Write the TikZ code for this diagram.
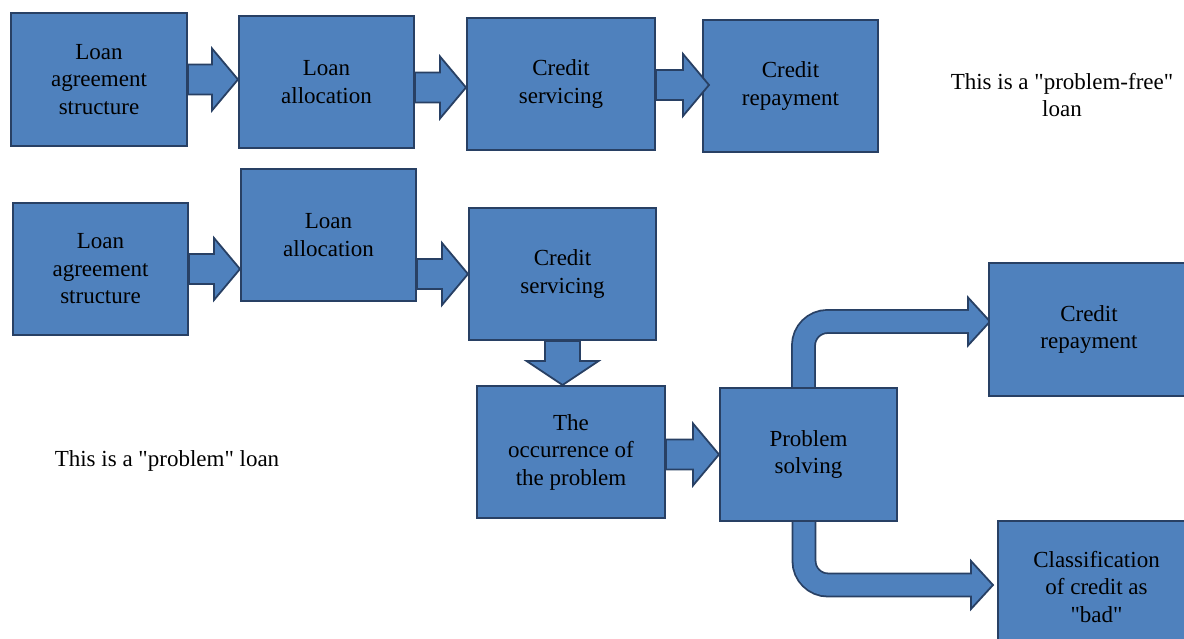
\documentclass[tikz,border=0pt]{standalone}
\usepackage{fontspec}
\setmainfont{Liberation Serif}
\usetikzlibrary{calc}
\definecolor{boxfill}{RGB}{79,129,189}
\definecolor{boxline}{RGB}{40,64,100}

% straight block arrow, left to right: start, tip
\newcommand{\rightblock}[2]{%
\draw[blockarrow] let \p1=(#1), \p2=(#2) in
 (\x1,\y2+15pt) -- (\x2-26pt,\y2+15pt) -- (\x2-26pt,\y2+31pt) -- (\x2,\y2)
 -- (\x2-26pt,\y2-31pt) -- (\x2-26pt,\y2-15pt) -- (\x1,\y2-15pt) -- cycle;}
% straight block arrow, downwards: start, tip
\newcommand{\downblock}[2]{%
\draw[blockarrow] let \p1=(#1), \p2=(#2) in
 (\x2-17.5pt,\y1) -- (\x2-17.5pt,\y2+24pt) -- (\x2-36pt,\y2+24pt) -- (\x2,\y2)
 -- (\x2+36pt,\y2+24pt) -- (\x2+17.5pt,\y2+24pt) -- (\x2+17.5pt,\y1) -- cycle;}
% bent block arrow: start, tip
\newcommand{\bentblock}[2]{%
\draw[line width=24.8pt, boxline, rounded corners=24pt] (#1) |- ($(#2)+(-22,0)$);
\draw[blockarrow] ($(#2)+(-22,-24)$) -- (#2) -- ($(#2)+(-22,24)$) -- cycle;
\draw[line width=21.2pt, boxfill, rounded corners=24pt] (#1) |- ($(#2)+(-19,0)$);}

\begin{document}
\begin{tikzpicture}[x=1pt,y=-1pt]
\tikzset{font={\fontsize{23}{27.5}\selectfont}}
\tikzset{box/.style={draw=boxline, fill=boxfill, line width=2pt, minimum width=175pt, minimum height=132pt, inner sep=0pt, align=center},
 blockarrow/.style={draw=boxline, fill=boxfill, line width=1.8pt, line join=miter},
 note/.style={align=center, inner sep=0pt}}
\useasboundingbox (0,0) rectangle (1184,639);

%Row 2 coordinates for the bent arrows
\coordinate (b5c) at (808.5,454.5);

%Problem-free loan
\node[box, minimum width=176pt, minimum height=133pt] (a1) at (99,79.5) {Loan\\agreement\\structure};
\node[box] (a2) at (326.5,82) {Loan\\allocation};
\node[box, minimum width=188pt] (a3) at (561,84) {Credit\\servicing};
\node[box] (a4) at (790.5,86) {Credit\\repayment};
\node[note] (freenote) at (1062,95) {This is a \textquotedbl problem-free\textquotedbl\\loan};

%Problem loan
\node[box] (b1) at (100.5,269) {Loan\\agreement\\structure};
\node[box] (b2) at (328.5,235) {Loan\\allocation};
\node[box, minimum width=187pt] (b3) at (562.5,274) {Credit\\servicing};
\node[box, minimum width=188pt] (b4) at (571,452) {The\\occurrence of\\the problem};
\node[note] (probnote) at (167,461) {This is a \textquotedbl problem\textquotedbl\ loan};

%Bent arrows, under the boxes
\coordinate (up) at (803.5,388);
\coordinate (down) at (804,521);
\coordinate (c1tip) at (990,321.5);
\coordinate (c2tip) at (993,585);
\bentblock{up}{c1tip}
\bentblock{down}{c2tip}

\node[box, minimum width=177pt, minimum height=133pt] (b5) at (b5c) {Problem\\solving};
\node[box, minimum width=200pt, minimum height=133pt] (c1) at (1089,329.5) {Credit\\repayment};
\node[box, minimum width=197pt] (c2) at (1096.5,587) {Classification\\of credit as\\\textquotedbl bad\textquotedbl};

%Straight arrows
\rightblock{a1.east}{a1.east -| a2.west}
\rightblock{a2.east}{$(a3.west)+(0,3.5)$}
\rightblock{a3.east}{$(a4.west)+(7,-1)$}
\rightblock{b1.east}{b1.east -| b2.west}
\rightblock{b2.east}{b3.west}
\rightblock{b4.east}{b5.west}
\downblock{b3.south}{b3.south |- b4.north}

\end{tikzpicture}
\end{document}
